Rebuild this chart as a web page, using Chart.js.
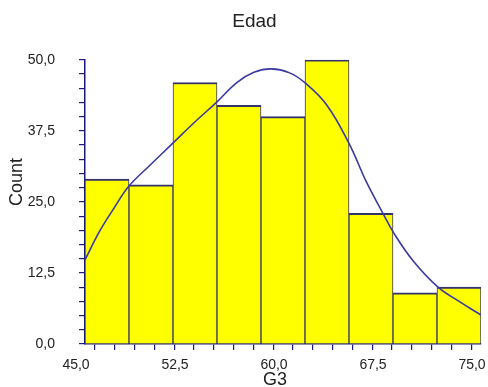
<!DOCTYPE html>
<html>
<head>
<meta charset="utf-8">
<script src="https://cdn.jsdelivr.net/npm/chart.js@4/dist/chart.umd.min.js"></script>
<style>
  html, body { margin: 0; padding: 0; background: #ffffff; }
  #wrap { width: 488px; height: 387px; }
</style>
</head>
<body>
<div id="wrap"><canvas id="c" width="488" height="387"></canvas></div>
<script>
// ---- data ----
const chartTitle = 'Edad';
const xTitle = 'G3';
const yTitle = 'Count';
const binEdges = [45.0, 48.333, 51.667, 55.0, 58.333, 61.667, 65.0, 68.333, 71.667, 75.0];
const binCounts = [29, 28, 46, 42, 40, 50, 23, 9, 10];
const curveX = [45.0, 46.1, 47.2, 48.3, 49.9, 51.6, 53.2, 55.0, 56.5, 57.8, 59.1, 60.5, 61.7, 63.3, 65.0, 66.3, 67.5, 68.4, 69.9, 71.7, 73.4, 75.0];
const curveY = [14.8, 19.8, 23.9, 27.7, 31.4, 35.2, 38.8, 42.6, 46.0, 47.8, 48.4, 47.7, 45.9, 42.1, 35.3, 28.6, 23.3, 19.5, 14.5, 10.1, 7.4, 5.1];
const xTickValues = [45, 52.5, 60, 67.5, 75];
const xTickLabels = ['45,0', '52,5', '60,0', '67,5', '75,0'];
const yTickValues = [0, 12.5, 25, 37.5, 50];
const yTickLabels = ['0,0', '12,5', '25,0', '37,5', '50,0'];

const barData = binCounts.map((v, i) => ({ x: (binEdges[i] + binEdges[i + 1]) / 2, y: v }));
const lineData = curveX.map((x, i) => ({ x: x, y: curveY[i] }));

function labelFor(v, vals, labels) {
  for (let i = 0; i < vals.length; i++) {
    if (Math.abs(v - vals[i]) < 1e-6) return labels[i];
  }
  return '';
}

const FONT = '"Liberation Sans", Arial, sans-serif';
const NAVY = '#1a1a80';
const TEXT = '#222222';
const PLOT_WIDTH = 396; // chart area width in px (485-85 region of the 488px canvas)

const axisTitles = {
  id: 'axisTitles',
  afterDraw(chart) {
    const ctx = chart.ctx;
    const a = chart.chartArea;
    ctx.save();
    ctx.fillStyle = TEXT;
    ctx.font = '18px ' + FONT;
    ctx.textAlign = 'center';
    ctx.textBaseline = 'middle';
    ctx.fillText(xTitle, (a.left + a.right) / 2 - 8, 380);
    ctx.translate(17, 182);
    ctx.rotate(-Math.PI / 2);
    ctx.fillText(yTitle, 0, 0);
    ctx.restore();
  }
};

new Chart(document.getElementById('c'), {
  data: {
    datasets: [
      {
        type: 'line',
        data: lineData,
        borderColor: '#3a3aa0',
        borderWidth: 1.6,
        pointRadius: 0,
        fill: false,
        tension: 0.4,
        order: 0
      },
      {
        type: 'bar',
        data: barData,
        backgroundColor: '#ffff00',
        borderColor: '#34346a',
        borderWidth: { top: 2, left: 1, right: 1, bottom: 0 },
        borderSkipped: false,
        barThickness: PLOT_WIDTH / binCounts.length,
        order: 1
      }
    ]
  },
  options: {
    responsive: false,
    devicePixelRatio: 1,
    animation: false,
    layout: { padding: { left: 28, right: 7, top: 0, bottom: 0 } },
    plugins: {
      legend: { display: false },
      tooltip: { enabled: false },
      title: {
        display: true,
        text: chartTitle,
        color: TEXT,
        font: { family: FONT, size: 19, weight: 'normal' },
        padding: { top: 10, bottom: 27 }
      }
    },
    scales: {
      x: {
        type: 'linear',
        min: 45,
        max: 75,
        offset: false,
        border: { display: true, color: NAVY, width: 1.5 },
        grid: { drawOnChartArea: false, drawTicks: true, tickLength: 6, color: NAVY, lineWidth: 1.2 },
        ticks: {
          stepSize: 1.5,
          autoSkip: false,
          maxRotation: 0,
          minRotation: 0,
          padding: 7,
          labelOffset: -9,
          color: TEXT,
          font: { family: FONT, size: 14 },
          callback: (v) => labelFor(v, xTickValues, xTickLabels)
        },
        afterFit: (s) => { s.height = 43; s.paddingLeft = 0; s.paddingRight = 0; }
      },
      y: {
        type: 'linear',
        min: 0,
        max: 50,
        border: { display: true, color: NAVY, width: 1.5 },
        grid: { drawOnChartArea: false, drawTicks: true, tickLength: 6, color: NAVY, lineWidth: 1.2 },
        ticks: {
          stepSize: 2.5,
          autoSkip: false,
          padding: 24,
          color: TEXT,
          font: { family: FONT, size: 14 },
          callback: (v) => labelFor(v, yTickValues, yTickLabels)
        },
        afterFit: (s) => { s.width = 57; s.paddingTop = 0; s.paddingBottom = 0; }
      }
    }
  },
  plugins: [axisTitles]
});
</script>
</body>
</html>
